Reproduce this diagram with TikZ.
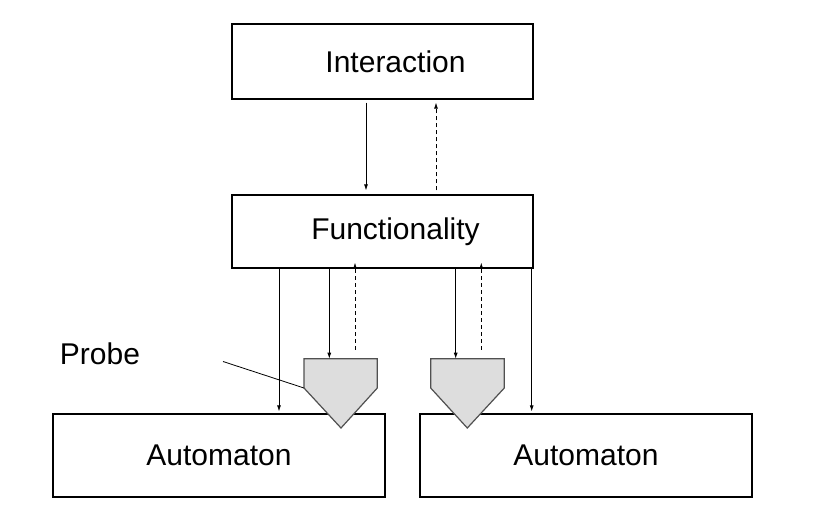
\documentclass[tikz,border=0pt]{standalone}
\usepackage{fontspec}
\setmainfont{Liberation Sans}
\usetikzlibrary{arrows.meta}
\definecolor{probegray}{RGB}{221,221,221}
\definecolor{probeedge}{RGB}{80,80,80}

\begin{document}
\begin{tikzpicture}[
    x=1pt, y=-1pt,
    font=\fontsize{30}{36}\selectfont,
    box/.style={draw, line width=1.2pt, inner sep=0pt},
    flow/.style={-{Latex[length=6pt,width=4pt]}, line width=0.8pt},
    back/.style={flow, dash pattern=on 4pt off 3pt},
    probe/.style={draw=probeedge, fill=probegray, line width=1.2pt}
  ]
  \useasboundingbox (0,0) rectangle (820,509);

  % boxes
  \node[box, minimum width=301pt, minimum height=75pt] (inter) at (382.5,61.5) {\hspace*{26pt}Interaction};
  \node[box, minimum width=301pt, minimum height=73pt] (func) at (382.5,231.5) {\hspace*{26pt}\raisebox{-3pt}{Functionality}};
  \node[box, minimum width=332pt, minimum height=83pt] (autL) at (219,455.5) {Automaton};
  \node[box, minimum width=332pt, minimum height=83pt] (autR) at (586,455.5) {Automaton};

  % probes
  \coordinate (probeA) at (341,358.7);
  \coordinate (probeB) at (467.3,358.7);
  \draw[probe] (304,358.7) -- (377.3,358.7) -- (377.3,388) -- (341,428) -- (304,388) coordinate (probeAside) -- cycle;
  \draw[probe] (430.7,358.7) -- (504.3,358.7) -- (504.3,388) -- (467.3,428) -- (430.7,388) -- cycle;

  % label
  \node (probelbl) at (100,354) {Probe};
  \coordinate (pointer) at (223,361.5);
  \draw[line width=0.8pt] (pointer) -- (probeAside);

  % interaction <-> functionality
  \draw[flow] (inter.south -| 366,0) ++(0,3) -- ([yshift=4pt]func.north -| 366,0);
  \draw[back] ([yshift=4pt]func.north -| 436,0) -- ([yshift=-3pt]inter.south -| 436,0);

  % functionality -> automata and probes
  \draw[flow] (func.south -| 279,0) -- ([yshift=2pt]autL.north -| 279,0);
  \draw[flow] (func.south -| 329.3,0) -- (probeA -| 329.3,0);
  \draw[back] ([yshift=9pt]probeA -| 355,0) -- ([yshift=6pt]func.south -| 355,0);
  \draw[flow] (func.south -| 455.7,0) -- (probeB -| 455.7,0);
  \draw[back] ([yshift=9pt]probeB -| 481.3,0) -- ([yshift=6pt]func.south -| 481.3,0);
  \draw[flow] (func.south -| 531.7,0) -- ([yshift=2pt]autR.north -| 531.7,0);
\end{tikzpicture}
\end{document}
